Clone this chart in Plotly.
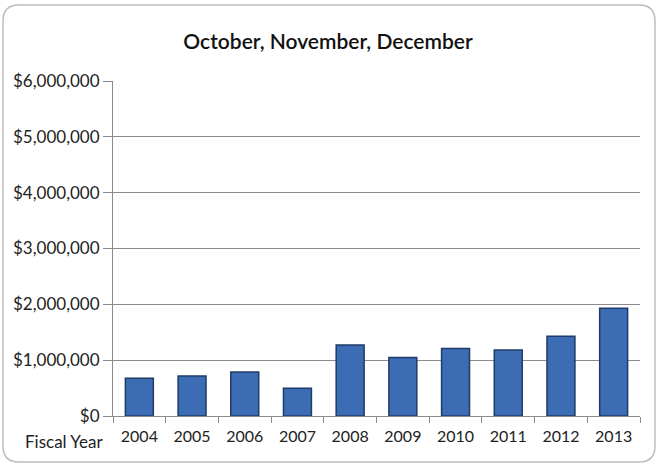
import plotly.graph_objects as go

years = ["2004", "2005", "2006", "2007", "2008", "2009", "2010", "2011", "2012", "2013"]
values = [675000, 717000, 789000, 496000, 1270000, 1050000, 1210000, 1180000, 1430000, 1930000]
y_ticks = [0, 1000000, 2000000, 3000000, 4000000, 5000000, 6000000]

FONT = "Lato"
W, H = 661, 469
L, R, T, B = 113, 21, 81, 53
pw, ph = W - L - R, H - T - B

def px2paper(x, y):
    return (x - L) / pw, (H - B - y) / ph

fig = go.Figure()
fig.add_trace(go.Bar(
    x=years, y=values,
    marker=dict(color="#3C6CB4", line=dict(color="#1F3B68", width=1.5)),
    width=0.53,
))

# rounded border
x0, y0, x1, y1, r = 3, 5, 655, 462, 16
def P(x, y):
    a, b = px2paper(x, y)
    return f"{a:.5f},{b:.5f}"
path = (f"M {P(x0+r,y0)} L {P(x1-r,y0)} Q {P(x1,y0)} {P(x1,y0+r)} "
        f"L {P(x1,y1-r)} Q {P(x1,y1)} {P(x1-r,y1)} L {P(x0+r,y1)} "
        f"Q {P(x0,y1)} {P(x0,y1-r)} L {P(x0,y0+r)} Q {P(x0,y0)} {P(x0+r,y0)} Z")

fig.update_layout(
    width=W, height=H,
    margin=dict(l=L, r=R, t=T, b=B),
    paper_bgcolor="white", plot_bgcolor="white",
    showlegend=False,
    font=dict(family=FONT, color="#222222"),
    title=dict(text="October, November, December", x=328 / W, xanchor="center",
               y=1 - 42 / H, yanchor="middle",
               font=dict(family=FONT, size=21, color="#111111", weight=600)),
    shapes=[dict(type="path", path=path, xref="paper", yref="paper",
                 line=dict(color="#BDBDBD", width=1.5), fillcolor="rgba(0,0,0,0)", layer="below")],
    annotations=[dict(text="Fiscal Year", xref="paper", yref="paper",
                      x=px2paper(105, 0)[0], y=px2paper(0, 441)[1], xanchor="right", yanchor="middle",
                      showarrow=False, font=dict(family=FONT, size=17, color="#222222"))],
)
fig.update_xaxes(
    type="category", tickson="boundaries", ticks="outside", ticklen=6, tickcolor="#8C8C8C",
    showline=True, linecolor="#8C8C8C", linewidth=1, showgrid=False,
    ticklabelstandoff=6,
    tickfont=dict(family=FONT, size=16, color="#222222"),
)
fig.update_yaxes(
    range=[0, 6000000], tickvals=y_ticks, tickformat="$,.0f",
    showgrid=True, gridcolor="#8C8C8C", gridwidth=1,
    showline=True, linecolor="#8C8C8C", linewidth=1,
    ticks="outside", ticklen=9, tickcolor="#8C8C8C",
    tickfont=dict(family=FONT, size=17, color="#222222"), zeroline=False,
)
fig.write_html("out.html")
